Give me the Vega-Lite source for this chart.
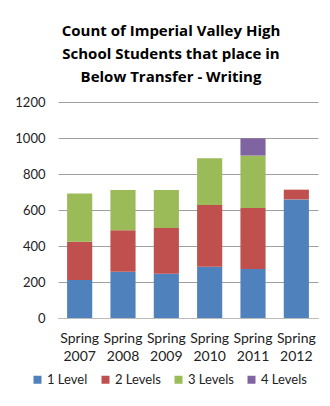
{
  "$schema": "https://vega.github.io/schema/vega-lite/v6.json",
  "width": 260,
  "height": 216,
  "autosize": "none",
  "padding": {"left": 58, "top": 102, "right": 12, "bottom": 88},
  "background": "white",
  "title": {
    "text": ["Count of Imperial Valley High", "School Students that place in", "Below Transfer - Writing"],
    "font": "Open Sans",
    "fontSize": 15,
    "fontWeight": "bold",
    "color": "#000000",
    "lineHeight": 23,
    "anchor": "middle",
    "dx": -17,
    "offset": 11
  },
  "data": {
    "values": [
      {"year": "Spring 2007", "level": "1 Level", "ord": 1, "count": 211},
      {"year": "Spring 2007", "level": "2 Levels", "ord": 2, "count": 213},
      {"year": "Spring 2007", "level": "3 Levels", "ord": 3, "count": 267},
      {"year": "Spring 2008", "level": "1 Level", "ord": 1, "count": 257},
      {"year": "Spring 2008", "level": "2 Levels", "ord": 2, "count": 230},
      {"year": "Spring 2008", "level": "3 Levels", "ord": 3, "count": 224},
      {"year": "Spring 2009", "level": "1 Level", "ord": 1, "count": 246},
      {"year": "Spring 2009", "level": "2 Levels", "ord": 2, "count": 254},
      {"year": "Spring 2009", "level": "3 Levels", "ord": 3, "count": 211},
      {"year": "Spring 2010", "level": "1 Level", "ord": 1, "count": 285},
      {"year": "Spring 2010", "level": "2 Levels", "ord": 2, "count": 343},
      {"year": "Spring 2010", "level": "3 Levels", "ord": 3, "count": 259},
      {"year": "Spring 2011", "level": "1 Level", "ord": 1, "count": 272},
      {"year": "Spring 2011", "level": "2 Levels", "ord": 2, "count": 339},
      {"year": "Spring 2011", "level": "3 Levels", "ord": 3, "count": 291},
      {"year": "Spring 2011", "level": "4 Levels", "ord": 4, "count": 96},
      {"year": "Spring 2012", "level": "1 Level", "ord": 1, "count": 659},
      {"year": "Spring 2012", "level": "2 Levels", "ord": 2, "count": 54}
    ]
  },
  "mark": {"type": "bar"},
  "encoding": {
    "x": {
      "field": "year",
      "type": "nominal",
      "sort": null,
      "scale": {"paddingInner": 0.42, "paddingOuter": 0.21},
      "axis": {
        "title": null,
        "labelAngle": 0,
        "labelExpr": "split(datum.label, ' ')",
        "labelFont": "Lato",
        "labelFontSize": 14,
        "labelColor": "#222222",
        "labelPadding": 13,
        "labelLineHeight": 18,
        "ticks": false,
        "domainColor": "#BBBBBB",
        "grid": false
      }
    },
    "y": {
      "field": "count",
      "type": "quantitative",
      "stack": "zero",
      "scale": {"domain": [0, 1200]},
      "axis": {
        "title": null,
        "values": [0, 200, 400, 600, 800, 1000, 1200],
        "format": "d",
        "labelFont": "Lato",
        "labelFontSize": 13,
        "labelColor": "#222222",
        "labelPadding": 13,
        "ticks": false,
        "domain": false,
        "grid": true,
        "gridColor": "#A0A0A0",
        "gridWidth": 1
      }
    },
    "color": {
      "field": "level",
      "type": "nominal",
      "scale": {
        "domain": ["1 Level", "2 Levels", "3 Levels", "4 Levels"],
        "range": ["#4F81BD", "#C0504D", "#9BBB59", "#8064A2"]
      },
      "legend": {
        "title": null,
        "orient": "none",
        "direction": "horizontal",
        "legendX": -27,
        "legendY": 271,
        "symbolType": "square",
        "symbolSize": 64,
        "symbolStrokeWidth": 0,
        "labelFont": "Lato",
        "labelFontSize": 13,
        "labelColor": "#222222",
        "labelOffset": 3,
        "columnPadding": 11
      }
    },
    "order": {"field": "ord", "type": "quantitative", "sort": "ascending"}
  },
  "config": {"view": {"stroke": null}}
}
